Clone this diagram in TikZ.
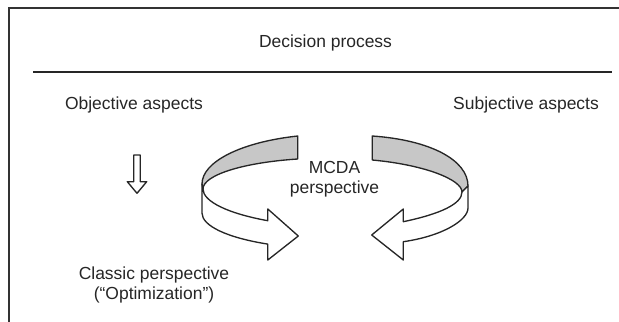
\documentclass[tikz,border=0pt]{standalone}
\usepackage{fontspec}
\setmainfont{Liberation Sans}
\begin{document}
\begin{tikzpicture}[x=0.75pt, y=-0.75pt,
    lbl/.style={anchor=base, align=center, text=black!85, inner sep=0pt,
      font=\fontsize{13.1}{14.8}\selectfont},
    band/.style={draw=black!85, line width=1pt, line join=round}]
  \useasboundingbox (0,0) rectangle (619,322);

  % frame and separator
  \draw[black!80, line width=1.5pt] (619,8) -- (9,8) -- (9,322);
  \draw[black!85, line width=1.1pt] (33,72) -- (612,72);

  \node[lbl] (title)   at (325.5,47.7) {Decision process};
  \node[lbl] (obj)     at (134,109)    {Objective aspects};
  \node[lbl] (subj)    at (526,109)    {Subjective aspects};
  \node[lbl] (mcda)    at (334.5,193)  {MCDA\\perspective};
  \node[lbl] (classic) at (154,299)    {Classic perspective\\(“Optimization”)};

  % small arrow
  \draw[band] (133.7,155) -- (140.3,155) -- (140.3,181.7) -- (146.7,181.7)
    -- (137,193.3) -- (127.3,181.7) -- (133.7,181.7) -- cycle;

  % left circular arrow
  \draw[band, fill=black!22] (297.7,136) .. controls (241.3,142.1) and (202,161.7) .. (202,184)
    -- (203,189) .. controls (203,175) and (243.6,162.5) .. (297.7,159) -- cycle;
  \draw[band, fill=white] (203,189) .. controls (203,201.5) and (228,213.5) .. (267.8,220.7)
    -- (267.8,209) -- (298.3,236) -- (267.8,260) -- (267.8,244.1)
    .. controls (226.8,237.6) and (202,225.8) .. (202,213) -- (202,184) -- cycle;

  % right circular arrow
  \draw[band, fill=black!22] (372.3,136) .. controls (430,140) and (468,160) .. (468,186)
    -- (462,192) .. controls (462,180) and (426,165) .. (372.3,160) -- cycle;
  \draw[band, fill=white] (462,192) .. controls (462,204) and (440,214) .. (403.3,221.7)
    -- (403.3,209) -- (371.7,235) -- (403.3,260) -- (403.3,241.7)
    .. controls (443,236) and (468,220) .. (468,208) -- (468,186) -- cycle;
\end{tikzpicture}
\end{document}
